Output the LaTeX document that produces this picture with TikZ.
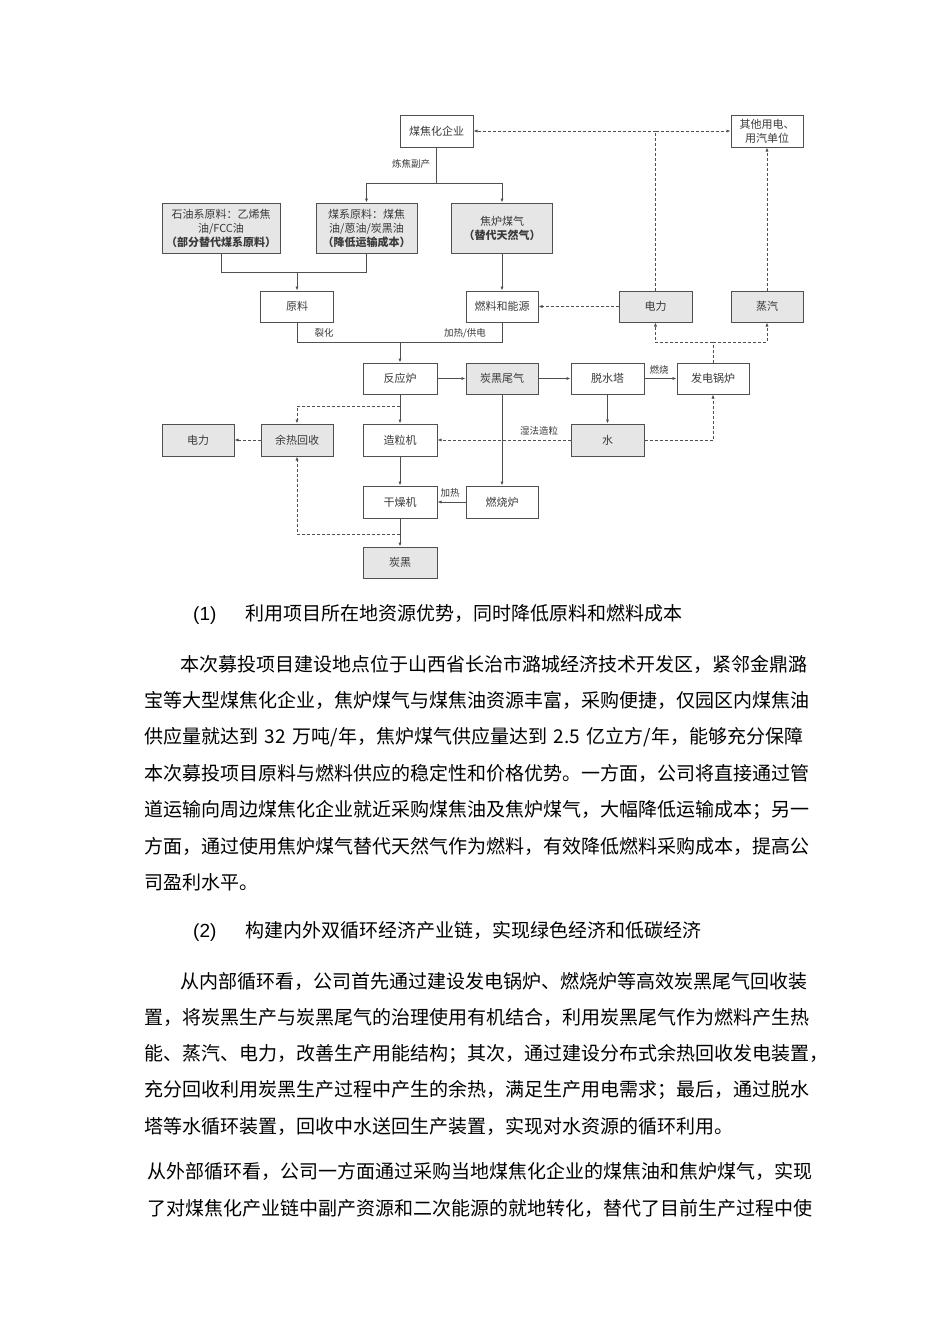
\documentclass[tikz,border=0pt]{standalone}
\usepackage{fontspec}
\newfontfamily\cjk{Noto Sans CJK SC}
\newfontfamily\latin{Liberation Sans}
\usetikzlibrary{arrows.meta}
\XeTeXlinebreaklocale "zh"
\XeTeXlinebreakskip=0pt plus 2pt
\definecolor{boxc}{HTML}{505050}
\definecolor{fillc}{HTML}{E6E6E6}
\definecolor{txtc}{HTML}{3A3A3A}
\tikzset{
  box/.style={draw=boxc, line width=1pt, minimum width=73pt, minimum height=31pt, inner sep=0pt,
    text=txtc, align=center, font=\cjk\fontsize{11}{14}\selectfont},
  gbox/.style={box, fill=fillc},
  conn/.style={draw=boxc, line width=0.9pt},
  arr/.style={conn, -{Latex[length=4pt,width=3.2pt]}},
  dsh/.style={dash pattern=on 3pt off 2pt},
  lab/.style={text=txtc, font=\cjk\fontsize{9.5}{11}\selectfont, inner sep=0pt},
  para/.style={anchor=west, inner sep=0pt, font=\cjk\fontsize{19}{22}\selectfont},
  head/.style={anchor=west, inner sep=0pt, font=\cjk\fontsize{19}{22}\selectfont}
}
\begin{document}
\begin{tikzpicture}[x=1pt,y=-1pt]
\useasboundingbox (0,0) rectangle (950,1344);
\fill[white] (0,0) rectangle (950,1344);
% ---------- nodes ----------
\node[box] (qy) at (436.5,131) [minimum height=32pt] {煤焦化企业};
\node[box] (qt) at (767,131) [minimum width=72pt, minimum height=32pt] {其他用电、\\用汽单位};
\node[gbox] (s1) at (221,228) [minimum width=118pt, minimum height=50pt] {石油系原料：乙烯焦\\油/FCC油\\\textbf{（部分替代煤系原料）}};
\node[gbox] (s2) at (366.5,228) [minimum width=101pt, minimum height=50pt] {煤系原料：煤焦\\油/蒽油/炭黑油\\\textbf{（降低运输成本）}};
\node[gbox] (s3) at (502,228) [minimum width=101pt, minimum height=50pt] {焦炉煤气\\\textbf{（替代天然气）}};
\node[box] (yl) at (297,306.5) {原料};
\node[box] (rl) at (502,306.5) [minimum width=72pt] {燃料和能源};
\node[gbox] (dl1) at (655.5,306.5) {电力};
\node[gbox] (zq) at (767,306.5) [minimum width=72pt] {蒸汽};
\node[box] (fy) at (400,378.5) [minimum width=74pt] {反应炉};
\node[gbox] (th) at (502,378.5) [minimum width=72pt] {炭黑尾气};
\node[box] (ts) at (607.5,378.5) {脱水塔};
\node[box] (gl) at (713,378.5) [minimum width=72pt] {发电锅炉};
\node[gbox] (dl2) at (198,440) [minimum width=72pt, minimum height=32pt] {电力};
\node[gbox] (yr) at (297,440) [minimum width=72pt, minimum height=32pt] {余热回收};
\node[box] (zl) at (400,440) [minimum width=74pt, minimum height=32pt] {造粒机};
\node[gbox] (sh) at (607.5,440) [minimum height=32pt] {水};
\node[box] (gz) at (400,502) [minimum width=74pt, minimum height=32pt] {干燥机};
\node[box] (rs) at (502,502) [minimum width=72pt, minimum height=32pt] {燃烧炉};
\node[gbox] (tb) at (400,562.5) [minimum width=74pt] {炭黑};
% ---------- junctions ----------
\coordinate (j1) at (436.5,183);
\coordinate (j2) at (297,272);
\coordinate (j3) at (400,342);
\coordinate (j4) at (713,342);
\coordinate (j5) at (655.5,131);
\coordinate (j6) at (400,406);
\coordinate (j7) at (400,534);
% ---------- solid connectors ----------
\draw[conn] (qy.south) -- (j1);
\draw[arr] (j1) -| (s2.north);
\draw[arr] (j1) -| (s3.north);
\draw[conn] (s1.south) |- (j2);
\draw[conn] (s2.south) |- (j2);
\draw[arr] (j2) -- (yl.north);
\draw[arr] (s3.south) -- (rl.north);
\draw[conn] (yl.south) |- (j3);
\draw[conn] (rl.south) |- (j3);
\draw[arr] (j3) -- (fy.north);
\draw[arr] (fy.east) -- (th.west);
\draw[arr] (th.east) -- (ts.west);
\draw[arr] (ts.east) -- (gl.west);
\draw[arr] (ts.south) -- (sh.north);
\draw[arr] (fy.south) -- (zl.north);
\draw[arr] (zl.south) -- (gz.north);
\draw[arr] (gz.south) -- (tb.north);
\draw[arr] (th.south) -- (rs.north);
\draw[arr] (rs.west) -- (gz.east);
% ---------- dashed connectors ----------
\draw[conn,dsh] (gl.north) -- (j4);
\draw[arr,dsh] (j4) -| (dl1.south);
\draw[arr,dsh] (j4) -| (zq.south);
\draw[conn,dsh] (dl1.north) -- (j5);
\draw[arr,dsh] (j5) -- (qy.east);
\draw[arr,dsh] (j5) -- (qt.west);
\draw[arr,dsh] (zq.north) -- (qt.south);
\draw[arr,dsh] (dl1.west) -- (rl.east);
\draw[arr,dsh] (sh.east) -| (gl.south);
\draw[arr,dsh] (sh.west) -- (zl.east);
\draw[arr,dsh] (j6) -| (yr.north);
\draw[arr,dsh] (yr.west) -- (dl2.east);
\draw[arr,dsh] (j7) -| (yr.south);
% ---------- labels ----------
\node[lab] (l1) at (411,164) {炼焦副产};
\node[lab] (l2) at (324,333) {裂化};
\node[lab] (l3) at (465,333) {加热/供电};
\node[lab] (l4) at (659,370) {燃烧};
\node[lab] (l5) at (539,431) {湿法造粒};
\node[lab] (l6) at (450,493) {加热};
% ---------- text ----------
\node[head] (h1) at (193,614) {\makebox[52pt][l]{\latin (1)}利用项目所在地资源优势，同时降低原料和燃料成本};
\node[para] (p1) at (180,664) {\makebox[623pt][s]{本次募投项目建设地点位于山西省长治市潞城经济技术开发区，紧邻金鼎潞}};
\node[para] (p2) at (144,700) {\makebox[659pt][s]{宝等大型煤焦化企业，焦炉煤气与煤焦油资源丰富，采购便捷，仅园区内煤焦油}};
\node[para] (p3) at (144,737) {\makebox[659pt][s]{供应量就达到 32 万吨/年，焦炉煤气供应量达到 2.5 亿立方/年，能够充分保障}};
\node[para] (p4) at (144,773) {\makebox[659pt][s]{本次募投项目原料与燃料供应的稳定性和价格优势。一方面，公司将直接通过管}};
\node[para] (p5) at (144,810) {\makebox[659pt][s]{道运输向周边煤焦化企业就近采购煤焦油及焦炉煤气，大幅降低运输成本；另一}};
\node[para] (p6) at (144,846) {\makebox[659pt][s]{方面，通过使用焦炉煤气替代天然气作为燃料，有效降低燃料采购成本，提高公}};
\node[para] (p7) at (144,882) {司盈利水平。};
\node[head] (h2) at (193,931) {\makebox[52pt][l]{\latin (2)}构建内外双循环经济产业链，实现绿色经济和低碳经济};
\node[para] (q1) at (180,981) {\makebox[623pt][s]{从内部循环看，公司首先通过建设发电锅炉、燃烧炉等高效炭黑尾气回收装}};
\node[para] (q2) at (144,1017) {\makebox[659pt][s]{置，将炭黑生产与炭黑尾气的治理使用有机结合，利用炭黑尾气作为燃料产生热}};
\node[para] (q3) at (144,1054) {\makebox[659pt][s]{能、蒸汽、电力，改善生产用能结构；其次，通过建设分布式余热回收发电装置，}};
\node[para] (q4) at (144,1090) {\makebox[659pt][s]{充分回收利用炭黑生产过程中产生的余热，满足生产用电需求；最后，通过脱水}};
\node[para] (q5) at (144,1126) {塔等水循环装置，回收中水送回生产装置，实现对水资源的循环利用。};
\node[para] (r1) at (147,1171) {\makebox[670pt][s]{从外部循环看，公司一方面通过采购当地煤焦化企业的煤焦油和焦炉煤气，实现}};
\node[para] (r2) at (147,1208) {\makebox[670pt][s]{了对煤焦化产业链中副产资源和二次能源的就地转化，替代了目前生产过程中使}};
\end{tikzpicture}
\end{document}
